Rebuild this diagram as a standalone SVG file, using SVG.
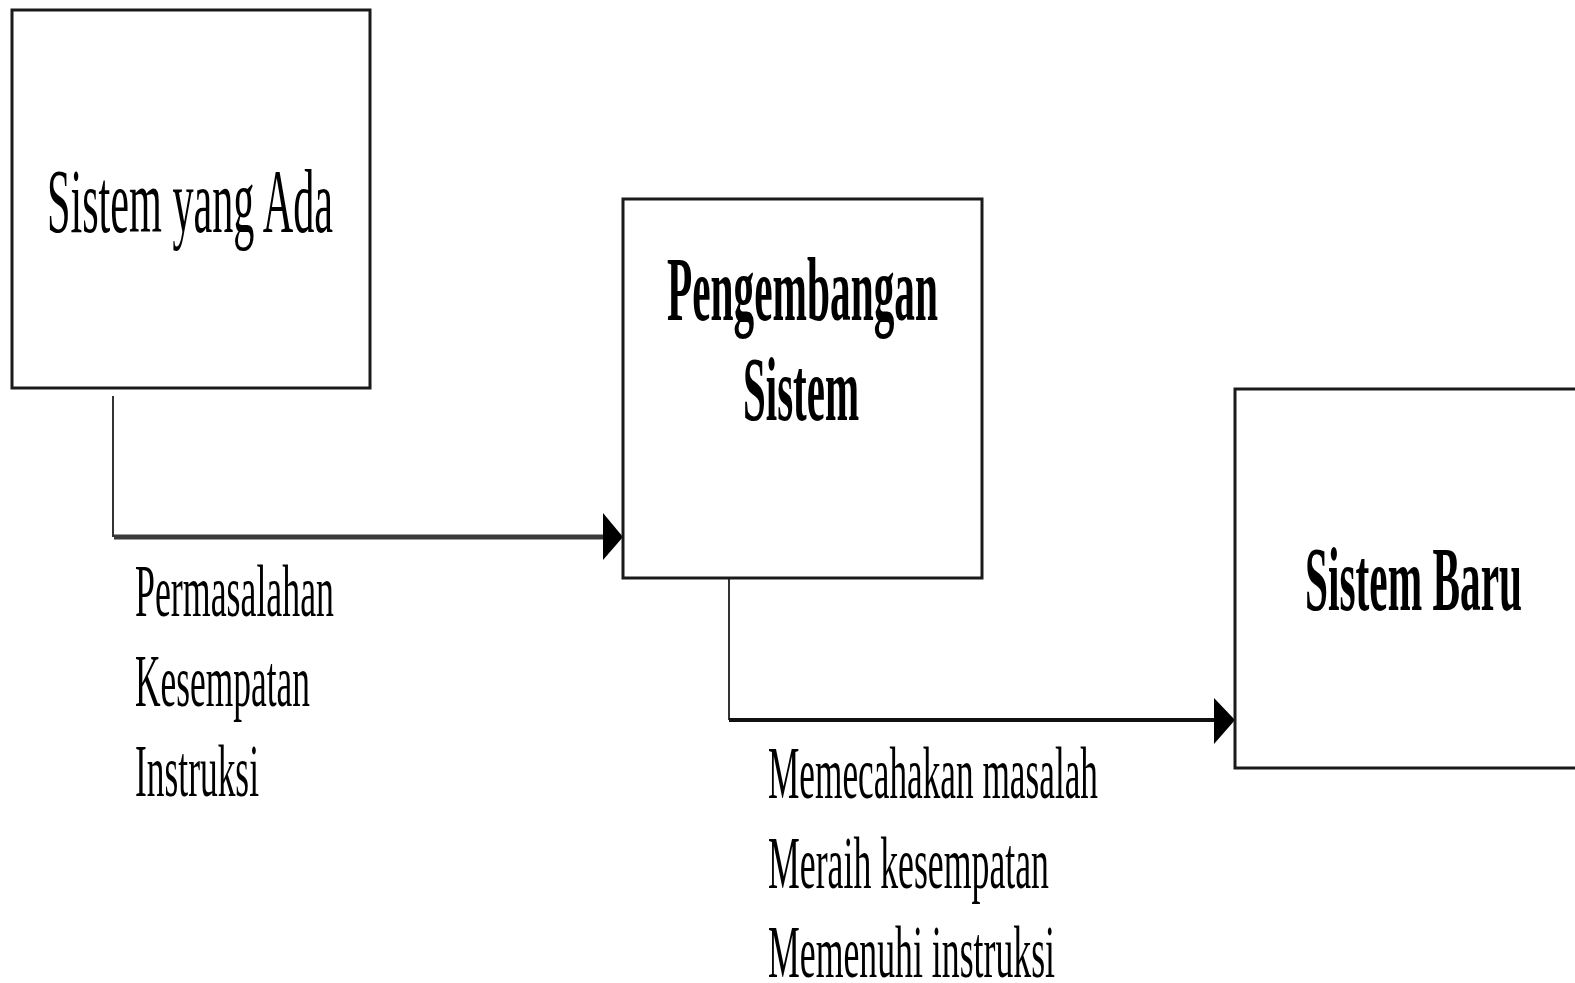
<svg xmlns="http://www.w3.org/2000/svg" width="1575" height="983" viewBox="0 0 1575 983">
<style>
.box{fill:#fff;stroke:#1a1a1a;stroke-width:3}
.t{font-family:"Liberation Serif","Times New Roman",serif;fill:#000}
.bt{font-size:92px}
.b{font-weight:bold}
.lbl{font-size:74px}
.thin{stroke:#333;stroke-width:2;fill:none}
</style>
<rect width="1575" height="983" fill="#fff"/>
<g id="connectors">
  <path class="thin" d="M113,396 V537"/>
  <line x1="114" y1="537" x2="605" y2="537" stroke="#3a3a3a" stroke-width="5"/>
  <polygon points="603,513 623,537 603,560" fill="#000"/>
  <path class="thin" d="M729,578 V720"/>
  <line x1="729" y1="720" x2="1216" y2="720" stroke="#111" stroke-width="4"/>
  <polygon points="1214,698 1235,720 1214,744" fill="#000"/>
  <text class="t lbl" x="135" y="616" textLength="199" lengthAdjust="spacingAndGlyphs">Permasalahan</text>
  <text class="t lbl" x="135" y="706" textLength="175" lengthAdjust="spacingAndGlyphs">Kesempatan</text>
  <text class="t lbl" x="135" y="796" textLength="124" lengthAdjust="spacingAndGlyphs">Instruksi</text>
  <text class="t lbl" x="768" y="798" textLength="330" lengthAdjust="spacingAndGlyphs">Memecahakan masalah</text>
  <text class="t lbl" x="768" y="888" textLength="281" lengthAdjust="spacingAndGlyphs">Meraih kesempatan</text>
  <text class="t lbl" x="768" y="977" textLength="287" lengthAdjust="spacingAndGlyphs">Memenuhi instruksi</text>
</g>
<g id="node-sistem-yang-ada">
  <rect class="box" x="12" y="10" width="358" height="378"/>
  <text class="t bt" x="47" y="232" textLength="286" lengthAdjust="spacingAndGlyphs">Sistem yang Ada</text>
</g>
<g id="node-pengembangan-sistem">
  <rect class="box" x="623" y="199" width="359" height="379"/>
  <text class="t bt b" x="667" y="320" textLength="271" lengthAdjust="spacingAndGlyphs">Pengembangan</text>
  <text class="t bt b" x="743" y="420" textLength="116" lengthAdjust="spacingAndGlyphs">Sistem</text>
</g>
<g id="node-sistem-baru">
  <rect class="box" x="1235" y="389" width="360" height="379"/>
  <text class="t bt b" x="1305" y="610" textLength="217" lengthAdjust="spacingAndGlyphs">Sistem Baru</text>
</g>
</svg>
